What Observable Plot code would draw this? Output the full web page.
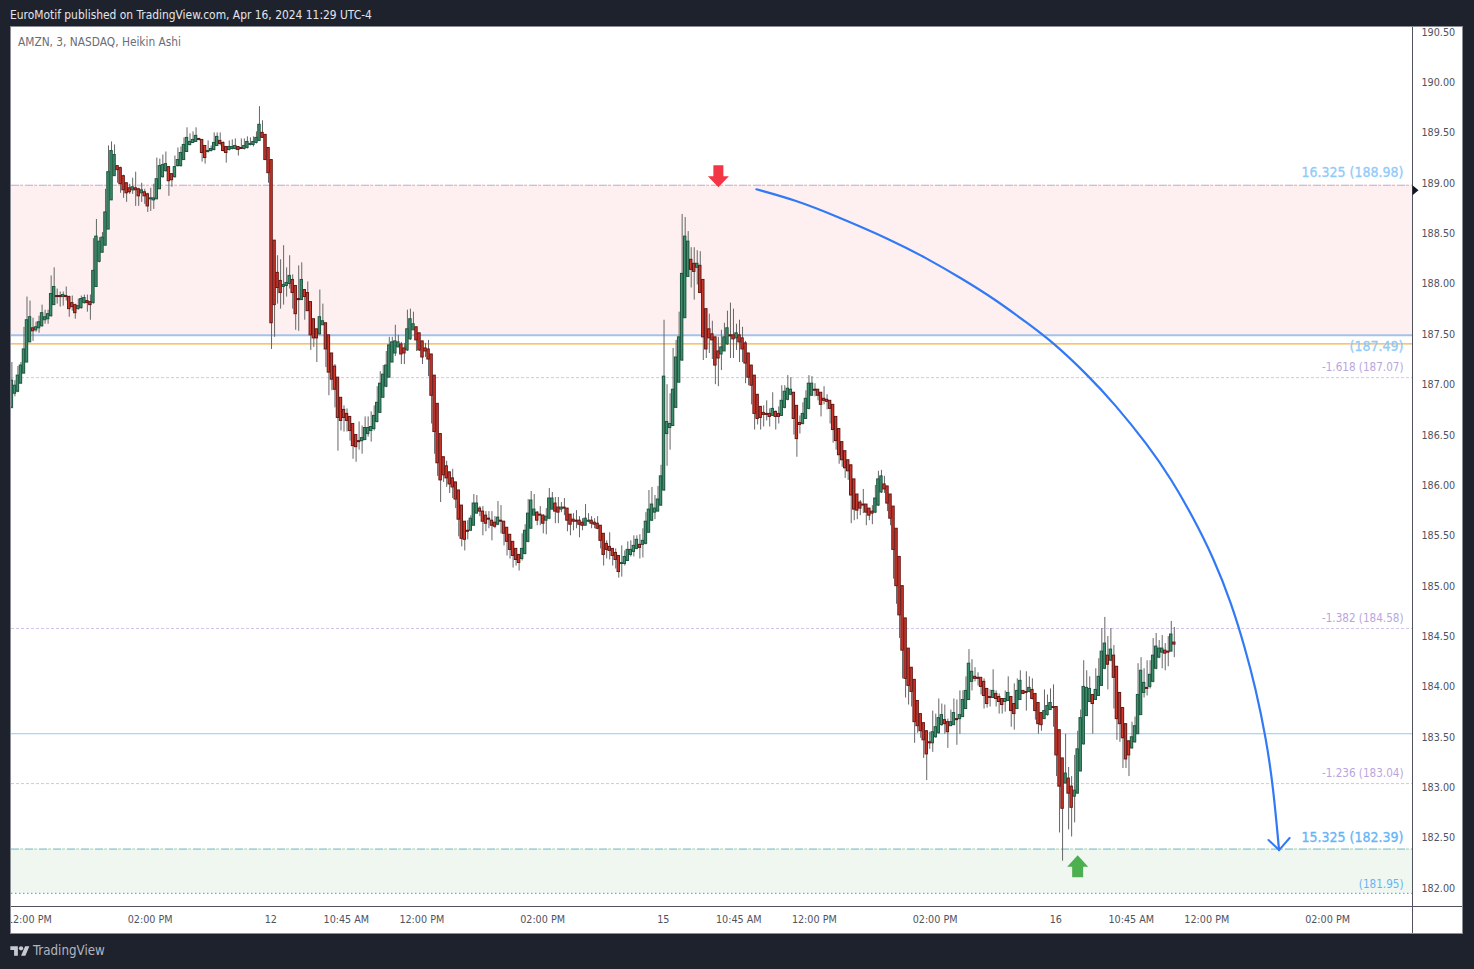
<!DOCTYPE html>
<html><head><meta charset="utf-8">
<script src="https://cdn.jsdelivr.net/npm/d3@7"></script>
<script src="https://cdn.jsdelivr.net/npm/@observablehq/plot@0.6"></script>
<style>
html,body{margin:0;padding:0;background:#1e222d;width:1474px;height:969px;overflow:hidden}
.a{position:absolute;white-space:nowrap}
#chart svg{position:absolute;left:0;top:0;display:block;background:transparent}
</style></head><body>
<div class="a" style="left:10px;top:26px;width:1451px;height:906px;background:#fff;border:1px solid #8a8d96"></div>
<div class="a" style="left:1412px;top:27px;width:1px;height:906px;background:#50535e"></div>
<div class="a" style="left:11px;top:906px;width:1451px;height:1px;background:#50535e"></div>
<div id="chart"></div>
<div class="a" style="left:0;top:900px;width:10px;height:40px;background:#1e222d"></div>
<div class="a" style="left:10px;top:900px;width:1px;height:34px;background:#8a8d96"></div>
<div class="a" style="left:10px;top:8px;font:11.9px 'DejaVu Sans Condensed','DejaVu Sans';color:#e3e5ea">EuroMotif published on TradingView.com, Apr 16, 2024 11:29 UTC-4</div>
<div class="a" style="left:18px;top:35px;font:11.8px 'DejaVu Sans Condensed','DejaVu Sans';color:#6a6d78">AMZN, 3, NASDAQ, Heikin Ashi</div>
<svg class="a" style="left:10px;top:944px" width="20" height="15" viewBox="0 0 36 28"><path fill="#c8cad1" d="M14 22H7V11H0V4h14v18zM28 22h-8l7.5-18h8L28 22z"/><circle fill="#c8cad1" cx="20" cy="8" r="4"/></svg>
<div class="a" style="left:33px;top:943px;font:13.25px 'DejaVu Sans Condensed','DejaVu Sans';color:#b2b5be">TradingView</div>
<script>
// candles per session: [open, close, high, low]
const apr11 = [
[186.77,187.04,187.22,186.76],[186.91,186.99,187.04,186.88],[186.93,187.09,187.18,186.92],[187.01,187.19,187.22,187.01],[187.11,187.35,187.57,187.11],[187.22,187.64,187.87,187.22],[187.42,187.67,187.83,187.42],[187.56,187.53,187.66,187.43],[187.54,187.57,187.62,187.52],[187.56,187.62,187.68,187.51],
[187.58,187.71,187.79,187.57],[187.64,187.67,187.74,187.60],[187.65,187.70,187.74,187.60],[187.68,187.90,188.08,187.67],[187.79,187.97,188.16,187.79],[187.88,187.87,187.95,187.80],[187.88,187.87,187.92,187.77],[187.87,187.89,187.92,187.78],[187.88,187.87,187.97,187.83],[187.87,187.75,187.88,187.67],
[187.81,187.77,187.88,187.73],[187.79,187.71,187.80,187.65],[187.75,187.78,187.85,187.74],[187.76,187.85,187.88,187.75],[187.81,187.86,187.89,187.80],[187.83,187.81,187.89,187.72],[187.82,187.79,187.89,187.64],[187.81,188.13,188.45,187.80],[187.97,188.47,188.64,187.97],[188.22,188.42,188.46,188.21],
[188.31,188.46,188.51,188.31],[188.38,188.71,188.94,188.38],[188.54,189.11,189.37,188.54],[188.83,189.32,189.41,188.83],[189.07,189.28,189.38,189.07],[189.17,189.13,189.17,189.00],[189.15,188.99,189.16,188.90],[189.07,188.93,189.08,188.85],[189.00,188.90,189.00,188.81],[188.95,188.91,188.99,188.89],
[188.93,188.96,189.05,188.89],[188.95,188.93,189.11,188.77],[188.94,188.87,188.95,188.77],[188.90,188.93,189.00,188.81],[188.91,188.87,188.94,188.79],[188.89,188.77,188.90,188.71],[188.84,188.85,188.95,188.72],[188.83,188.85,188.99,188.74],[188.84,189.04,189.25,188.84],[188.94,189.17,189.24,188.94],
[189.06,189.18,189.28,189.05],[189.12,189.19,189.31,189.11],[189.16,189.02,189.16,188.87],[189.09,189.03,189.09,188.96],[189.06,189.16,189.27,189.05],[189.17,189.23,189.35,189.16],[189.17,189.30,189.36,189.16],[189.23,189.38,189.45,189.23],[189.31,189.45,189.55,189.31],[189.38,189.41,189.49,189.37],
[189.40,189.43,189.51,189.40],[189.41,189.47,189.55,189.41],[189.44,189.43,189.44,189.42],[189.43,189.30,189.43,189.21],[189.37,189.25,189.37,189.19],[189.31,189.32,189.42,189.30],[189.32,189.34,189.37,189.31],[189.33,189.40,189.50,189.32],[189.37,189.46,189.50,189.37],[189.42,189.39,189.50,189.37],
[189.40,189.32,189.41,189.31],[189.36,189.30,189.36,189.20],[189.33,189.36,189.42,189.32],[189.34,189.36,189.43,189.33],[189.34,189.37,189.44,189.33],[189.36,189.33,189.36,189.27],[189.35,189.34,189.44,189.34],[189.34,189.37,189.44,189.33],[189.35,189.41,189.46,189.34],[189.38,189.39,189.45,189.37],
[189.38,189.41,189.46,189.36],[189.40,189.45,189.51,189.39],[189.42,189.58,189.76,189.42],[189.50,189.45,189.62,189.45],[189.48,189.23,189.48,189.23],[189.35,189.10,189.35,189.00]];
const apr12 = [
[189.23,187.61,189.23,187.35],[188.43,187.79,188.43,187.47],[188.11,187.96,188.28,187.80],[188.03,187.91,188.24,187.75],[187.97,187.99,188.38,187.79],[187.98,188.01,188.16,187.87],[188.00,188.08,188.28,187.95],[188.04,187.91,188.09,187.75],[187.98,187.70,187.98,187.54],[187.85,187.84,188.18,187.53],
[187.84,188.04,188.21,187.84],[187.94,187.87,187.94,187.64],[187.91,187.73,188.02,187.73],[187.82,187.49,187.82,187.34],[187.65,187.46,187.65,187.37],[187.55,187.46,187.55,187.22],[187.50,187.67,187.94,187.49],[187.59,187.63,187.80,187.59],[187.61,187.35,187.61,187.17],[187.49,187.12,187.49,186.89],
[187.31,187.05,187.31,186.94],[187.18,186.95,187.20,186.77],[187.07,186.67,187.07,186.34],[186.87,186.64,186.87,186.54],[186.75,186.67,186.79,186.53],[186.71,186.64,186.76,186.53],[186.68,186.54,186.68,186.44],[186.61,186.39,186.61,186.26],[186.50,186.38,186.50,186.23],[186.44,186.43,186.63,186.35],
[186.44,186.47,186.59,186.31],[186.45,186.57,186.68,186.45],[186.51,186.57,186.68,186.48],[186.54,186.58,186.73,186.43],[186.56,186.69,186.79,186.54],[186.63,186.82,186.98,186.62],[186.72,187.01,187.13,186.72],[186.87,187.10,187.19,186.87],[186.98,187.19,187.33,186.97],[187.07,187.39,187.47,187.07],
[187.22,187.42,187.47,187.22],[187.31,187.43,187.59,187.28],[187.37,187.42,187.49,187.37],[187.40,187.30,187.42,187.20],[187.36,187.31,187.41,187.20],[187.34,187.55,187.74,187.33],[187.45,187.65,187.75,187.44],[187.54,187.60,187.72,187.54],[187.57,187.44,187.57,187.33],[187.51,187.34,187.51,187.33],
[187.43,187.27,187.43,187.20],[187.36,187.33,187.41,187.27],[187.35,187.25,187.44,187.08],[187.30,186.89,187.30,186.61],[187.09,186.53,187.09,186.31],[186.81,186.22,186.81,186.09],[186.51,186.05,186.51,185.83],[186.28,186.10,186.28,186.03],[186.19,186.07,186.24,185.98],[186.13,186.01,186.13,185.92],
[186.07,185.98,186.16,185.87],[186.03,185.86,186.03,185.77],[185.95,185.66,185.95,185.49],[185.80,185.47,185.80,185.39],[185.64,185.46,185.64,185.35],[185.55,185.54,185.65,185.46],[185.55,185.67,185.70,185.55],[185.60,185.82,185.91,185.60],[185.72,185.82,185.90,185.72],[185.77,185.74,185.79,185.69],
[185.74,185.64,185.79,185.50],[185.70,185.62,185.74,185.54],[185.67,185.66,185.74,185.57],[185.65,185.60,185.74,185.45],[185.63,185.59,185.69,185.57],[185.61,185.68,185.84,185.60],[185.65,185.64,185.80,185.52],[185.64,185.52,185.64,185.40],[185.58,185.44,185.58,185.30],[185.51,185.36,185.51,185.27],
[185.44,185.30,185.44,185.18],[185.37,185.26,185.37,185.20],[185.31,185.23,185.31,185.15],[185.27,185.37,185.52,185.25],[185.32,185.55,185.61,185.31],[185.44,185.72,185.86,185.43],[185.57,185.85,185.94,185.57],[185.70,185.76,185.91,185.70],[185.73,185.65,185.74,185.60],[185.71,185.70,185.79,185.60],
[185.70,185.62,185.71,185.52],[185.65,185.69,185.77,185.51],[185.67,185.87,185.97,185.66],[185.76,185.87,185.93,185.76],[185.82,185.74,185.88,185.62],[185.78,185.73,185.88,185.62],[185.76,185.78,185.83,185.73],[185.78,185.77,185.87,185.70],[185.77,185.65,185.77,185.54],[185.71,185.61,185.71,185.50],
[185.66,185.64,185.72,185.55],[185.65,185.64,185.75,185.57],[185.65,185.61,185.69,185.48],[185.63,185.60,185.67,185.55],[185.60,185.67,185.81,185.60],[185.64,185.65,185.72,185.63],[185.65,185.62,185.69,185.57],[185.63,185.61,185.67,185.57],[185.62,185.57,185.69,185.56],[185.60,185.45,185.60,185.37],
[185.52,185.31,185.52,185.20],[185.42,185.36,185.45,185.27],[185.39,185.35,185.53,185.26],[185.37,185.30,185.37,185.20],[185.33,185.26,185.37,185.17],[185.30,185.14,185.30,185.08],[185.22,185.23,185.40,185.09],[185.22,185.29,185.35,185.20],[185.25,185.36,185.44,185.25],[185.31,185.36,185.45,185.29],
[185.34,185.40,185.50,185.29],[185.37,185.46,185.50,185.36],[185.41,185.38,185.51,185.27],[185.41,185.45,185.57,185.28],[185.42,185.64,185.73,185.41],[185.53,185.76,185.95,185.53],[185.65,185.81,185.98,185.64],[185.73,185.77,185.90,185.66],[185.74,185.86,185.99,185.74],[185.80,186.09,186.20,185.79]];
const apr15 = [
[185.95,187.08,187.64,185.94],[186.51,186.63,187.00,186.19],[186.57,186.61,186.91,186.35],[186.59,186.95,187.36,186.59],[186.77,187.27,187.44,186.77],[187.02,187.47,187.72,187.02],[187.24,188.10,188.69,187.23],[187.66,188.47,188.66,187.66],[188.07,188.42,188.52,188.07],[188.24,188.14,188.36,187.96],
[188.20,188.12,188.36,187.84],[188.16,188.20,188.33,187.99],[188.18,187.91,188.32,187.91],[188.04,187.47,188.04,187.24],[187.75,187.35,187.75,187.26],[187.55,187.46,187.70,187.31],[187.50,187.44,187.63,187.25],[187.47,187.19,187.47,187.00],[187.33,187.26,187.47,186.98],[187.30,187.37,187.54,187.14],
[187.33,187.47,187.61,187.33],[187.40,187.56,187.73,187.39],[187.49,187.48,187.81,187.26],[187.49,187.45,187.75,187.26],[187.46,187.51,187.60,187.34],[187.49,187.42,187.64,187.22],[187.46,187.35,187.57,187.22],[187.41,187.21,187.43,187.01],[187.31,187.07,187.31,186.99],[187.19,186.99,187.19,186.80],
[187.09,186.71,187.09,186.55],[186.90,186.66,186.90,186.60],[186.78,186.67,186.78,186.55],[186.72,186.70,186.79,186.58],[186.71,186.70,186.84,186.64],[186.71,186.68,186.76,186.58],[186.69,186.76,186.92,186.69],[186.73,186.68,186.74,186.55],[186.71,186.68,186.78,186.61],[186.69,186.84,186.99,186.69],
[186.77,186.93,186.99,186.76],[186.85,186.96,187.09,186.84],[186.90,186.95,187.07,186.89],[186.92,186.66,186.92,186.50],[186.79,186.46,186.79,186.28],[186.62,186.60,186.69,186.51],[186.61,186.71,186.82,186.60],[186.66,186.86,186.94,186.66],[186.76,187.01,187.09,186.75],[186.89,187.01,187.08,186.89],
[186.95,186.94,187.01,186.88],[186.95,186.89,186.95,186.84],[186.92,186.80,186.92,186.68],[186.86,186.84,186.98,186.80],[186.85,186.83,186.90,186.75],[186.84,186.76,186.84,186.61],[186.80,186.55,186.80,186.42],[186.68,186.44,186.68,186.35],[186.56,186.30,186.56,186.21],[186.43,186.25,186.43,186.18],
[186.34,186.17,186.34,186.07],[186.25,186.14,186.25,186.05],[186.20,185.90,186.20,185.62],[186.06,185.76,186.06,185.65],[185.91,185.75,185.91,185.66],[185.83,185.77,185.85,185.70],[185.81,185.80,185.96,185.72],[185.81,185.73,185.81,185.60],[185.77,185.70,185.77,185.65],[185.74,185.72,185.80,185.61],
[185.73,185.87,186.00,185.72],[185.80,186.06,186.14,185.79],[185.93,186.09,186.15,185.92],[186.01,185.96,186.09,185.92],[185.99,185.82,185.99,185.74],[185.91,185.67,185.91,185.60],[185.79,185.36,185.79,185.07],[185.57,185.00,185.57,184.82],[185.29,184.71,185.29,184.48],[185.00,184.36,185.00,184.08],
[184.68,184.08,184.68,183.89],[184.38,184.01,184.38,183.82],[184.19,183.95,184.19,183.80],[184.07,183.65,184.07,183.44],[183.86,183.61,183.86,183.54],[183.73,183.56,183.73,183.49],[183.64,183.47,183.64,183.29],[183.56,183.33,183.56,183.07],[183.45,183.44,183.55,183.38],[183.44,183.55,183.76,183.35],
[183.50,183.60,183.73,183.49],[183.54,183.69,183.88,183.53],[183.62,183.72,183.83,183.61],[183.67,183.63,183.82,183.53],[183.65,183.55,183.68,183.39],[183.61,183.65,183.77,183.61],[183.62,183.74,183.88,183.62],[183.68,183.67,183.87,183.42],[183.68,183.72,183.96,183.53],[183.70,183.87,183.96,183.70],
[183.78,183.96,184.10,183.78],[183.87,184.23,184.37,183.87],[184.05,184.15,184.27,183.96],[184.10,184.08,184.19,184.05],[184.09,184.08,184.14,184.01],[184.09,184.00,184.09,183.92],[184.05,183.91,184.08,183.78],[183.98,183.83,183.98,183.79],[183.90,183.89,183.97,183.80],[183.89,183.96,184.17,183.89],
[183.93,183.88,183.96,183.80],[183.90,183.85,183.93,183.73],[183.88,183.82,183.88,183.73],[183.85,183.88,183.96,183.75],[183.86,183.94,184.10,183.86],[183.90,183.76,183.90,183.60],[183.83,183.73,184.03,183.57],[183.78,183.96,184.08,183.78],[183.87,184.06,184.16,183.87],[183.96,183.93,183.96,183.93],
[183.95,183.94,184.15,183.76],[183.95,183.99,184.10,183.94],[183.97,183.88,184.08,183.87],[183.93,183.76,183.93,183.67],[183.84,183.63,183.84,183.53],[183.74,183.62,183.74,183.56],[183.68,183.76,183.97,183.68],[183.72,183.81,183.92,183.71],[183.77,183.84,183.98,183.77],[183.80,183.79,184.02,183.60]];
const apr16 = [
[183.80,183.32,183.80,183.11],[183.57,183.01,183.57,182.55],[183.29,182.79,183.29,182.27],[183.04,183.14,183.53,183.04],[183.09,182.94,183.20,182.58],[183.01,182.80,183.11,182.51],[182.91,182.97,183.32,182.65],[182.94,183.38,183.56,182.94],[183.16,183.69,183.77,183.16],[183.43,184.00,184.26,183.42],
[183.71,183.99,184.16,183.71],[183.85,183.98,184.10,183.85],[183.92,183.83,183.92,183.53],[183.87,183.97,184.18,183.87],[183.91,184.10,184.28,183.91],[184.01,184.35,184.58,184.01],[184.18,184.43,184.69,184.17],[184.31,184.22,184.50,183.97],[184.26,184.37,184.58,184.25],[184.31,184.09,184.41,183.78],
[184.20,183.68,184.20,183.47],[183.94,183.63,183.94,183.45],[183.79,183.49,183.79,183.19],[183.63,183.28,183.63,183.19],[183.46,183.32,183.46,183.11],[183.39,183.50,183.65,183.38],[183.45,183.61,183.70,183.44],[183.53,183.92,184.23,183.53],[183.72,184.16,184.29,183.72],[183.94,184.04,184.18,183.89],
[183.99,183.98,184.26,183.91],[184.00,184.12,184.26,183.98],[184.05,184.31,184.48,184.04],[184.18,184.40,184.53,184.17],[184.29,184.38,184.46,184.28],[184.34,184.38,184.51,184.18],[184.36,184.33,184.43,184.16],[184.35,184.34,184.50,184.20],[184.35,184.52,184.65,184.35],[184.44,184.42,184.59,184.29]];

const priceTicks = [182,182.5,183,183.5,184,184.5,185,185.5,186,186.5,187,187.5,188,188.5,189,189.5,190,190.5];
const timeTicks = [6,46,86,111,136,176,216,241,266,306,346,371,396,436];
const timeLabels = ["12:00 PM","02:00 PM","12","10:45 AM","12:00 PM","02:00 PM","15","10:45 AM","12:00 PM","02:00 PM","16","10:45 AM","12:00 PM","02:00 PM"];

const sellZone = [188.98, 187.49];
const buyZone = [182.39, 181.95];
const fibLevels = [187.07, 184.58, 183.04];
const fibLabels = ["-1.618 (187.07)", "-1.382 (184.58)", "-1.236 (183.04)"];
const orangeLevel = [187.405];
const blueLevel = [183.535];
const curveBars = [246.6,259.8,272.5,291.1,302.7,314.3,326,336.4,344.5,356.2,365.5,376,384.1,391.1,398,403.8,408.5,411.9,415.4,417.8,419.7];
const curvePrices = [188.94,188.83,188.68,188.44,188.26,188.06,187.84,187.61,187.43,187.10,186.80,186.41,186.06,185.69,185.28,184.84,184.38,183.99,183.49,183.00,182.38];
const headBars = [416.2,419.7,423.2];
const headPrices = [182.48,182.38,182.50];

const candles = [...apr11,...apr12,...apr15,...apr16].map((r,i)=>({i,o:r[0],c:r[1],h:r[2],l:r[3],up:r[1]>=r[0]}));
const ups = candles.filter(d=>d.up), downs = candles.filter(d=>!d.up);
const curve = curveBars.map((b,k)=>({b,p:curvePrices[k]}));
const head = headBars.map((b,k)=>({b,p:headPrices[k]}));
const fib = fibLevels.map((p,k)=>({p,t:fibLabels[k]}));

const arrowDown = {draw(c){c.moveTo(-5,-11);c.lineTo(5,-11);c.lineTo(5,0);c.lineTo(10.5,0);c.lineTo(0,11);c.lineTo(-10.5,0);c.lineTo(-5,0);c.closePath();}};
const arrowUp = {draw(c){c.moveTo(-5.5,11);c.lineTo(5.5,11);c.lineTo(5.5,0.5);c.lineTo(10.5,0.5);c.lineTo(0,-11);c.lineTo(-10.5,0.5);c.lineTo(-5.5,0.5);c.closePath();}};
const marker = {draw(c){c.moveTo(0,-5);c.lineTo(6,0);c.lineTo(0,5);c.closePath();}};

const FONT = "'DejaVu Sans Condensed','DejaVu Sans',sans-serif";
const xMin = -0.13, xMax = 463.9;
const bodyHalf = 0.4;

const plot = Plot.plot({
  width:1474, height:969,
  marginLeft:11, marginRight:62, marginTop:27, marginBottom:63,
  style:{background:"transparent", fontFamily:FONT},
  x:{domain:[xMin,xMax], axis:null},
  y:{domain:[190.546,181.82].reverse(), axis:null},
  marks:[
    Plot.rectY([sellZone],{x1:xMin,x2:xMax,y1:d=>d[0],y2:d=>d[1],fill:"#fef0f0"}),
    Plot.rectY([buyZone],{x1:xMin,x2:xMax,y1:d=>d[0],y2:d=>d[1],fill:"#f0f7f0"}),
    Plot.ruleY([sellZone[0]],{stroke:"#aab3dc",strokeWidth:1,strokeDasharray:"8 6"}),
    Plot.ruleY([sellZone[0]],{stroke:"#f2a6a6",strokeWidth:1,strokeDasharray:"3 11",strokeDashoffset:-9}),
    Plot.ruleY([sellZone[1]],{stroke:"#a4c2e8",strokeWidth:2}),
    Plot.ruleY(orangeLevel,{stroke:"#f39c12",strokeWidth:1}),
    Plot.ruleY(blueLevel,{stroke:"#90caf9",strokeWidth:1}),
    Plot.ruleY(fib,{y:"p",stroke:"#d1c4e9",strokeWidth:1,strokeDasharray:"3 2"}),
    Plot.ruleY([buyZone[0]],{stroke:"#6fb5cc",strokeWidth:1,strokeDasharray:"8 6"}),
    Plot.ruleY([buyZone[0]],{stroke:"#a8d5a8",strokeWidth:1,strokeDasharray:"3 11",strokeDashoffset:-9}),
    Plot.ruleY([buyZone[1]],{stroke:"#4fb3f6",strokeWidth:1.2,strokeDasharray:"1.5 2.5"}),
    Plot.ruleX(candles,{x:"i",y1:"l",y2:"h",stroke:"#666",strokeWidth:1,clip:true}),
    Plot.rect(ups,{x1:d=>d.i-bodyHalf,x2:d=>d.i+bodyHalf,y1:"o",y2:"c",fill:"#3f8f6c",stroke:"#1d5640",strokeWidth:1,clip:true}),
    Plot.rect(downs,{x1:d=>d.i-bodyHalf,x2:d=>d.i+bodyHalf,y1:"o",y2:"c",fill:"#d03b2f",stroke:"#651714",strokeWidth:1,clip:true}),
    Plot.line(curve,{x:"b",y:"p",curve:"basis",stroke:"#3179f5",strokeWidth:2.2}),
    Plot.line(head,{x:"b",y:"p",stroke:"#3179f5",strokeWidth:2}),
    Plot.dot([{b:234,p:189.07}],{x:"b",y:"p",r:10,symbol:arrowDown,fill:"#f23645",stroke:"none"}),
    Plot.dot([{b:353,p:182.22}],{x:"b",y:"p",r:10,symbol:arrowUp,fill:"#4caf50",stroke:"none"}),
    Plot.dot([{b:xMax,p:188.93}],{x:"b",y:"p",r:5,symbol:marker,fill:"#131722",stroke:"none"}),
    Plot.text([sellZone[0]],{y:d=>d,frameAnchor:"right",dx:-9,dy:-13,text:()=>"16.325 (188.98)",textAnchor:"end",fill:"#90caf9",stroke:"#90caf9",strokeWidth:0.3,fontSize:14}),
    Plot.text([sellZone[1]],{y:d=>d,frameAnchor:"right",dx:-9,dy:11,text:()=>"(187.49)",textAnchor:"end",fill:"#90caf9",stroke:"#90caf9",strokeWidth:0.3,fontSize:14}),
    Plot.text(fib,{y:"p",frameAnchor:"right",dx:-9,dy:-10,text:"t",textAnchor:"end",fill:"#b9a5de",fontSize:11.6}),
    Plot.text([buyZone[0]],{y:d=>d,frameAnchor:"right",dx:-9,dy:-12,text:()=>"15.325 (182.39)",textAnchor:"end",fill:"#64b5f6",stroke:"#64b5f6",strokeWidth:0.3,fontSize:14}),
    Plot.text([buyZone[1]],{y:d=>d,frameAnchor:"right",dx:-9,dy:-9,text:()=>"(181.95)",textAnchor:"end",fill:"#64b5f6",fontSize:11.6}),
    Plot.axisY(priceTicks,{anchor:"right",tickSize:0,tickPadding:9,tickFormat:d=>d.toFixed(2),fill:"#50535e",fontSize:10.7,label:null}),
    Plot.axisX(timeTicks,{anchor:"bottom",tickSize:0,tickPadding:9,dx:-0.7,tickFormat:d=>timeLabels[timeTicks.indexOf(d)],fill:"#50535e",fontSize:10.7,label:null})
  ]
});
document.getElementById("chart").appendChild(plot);
</script>
</body></html>
